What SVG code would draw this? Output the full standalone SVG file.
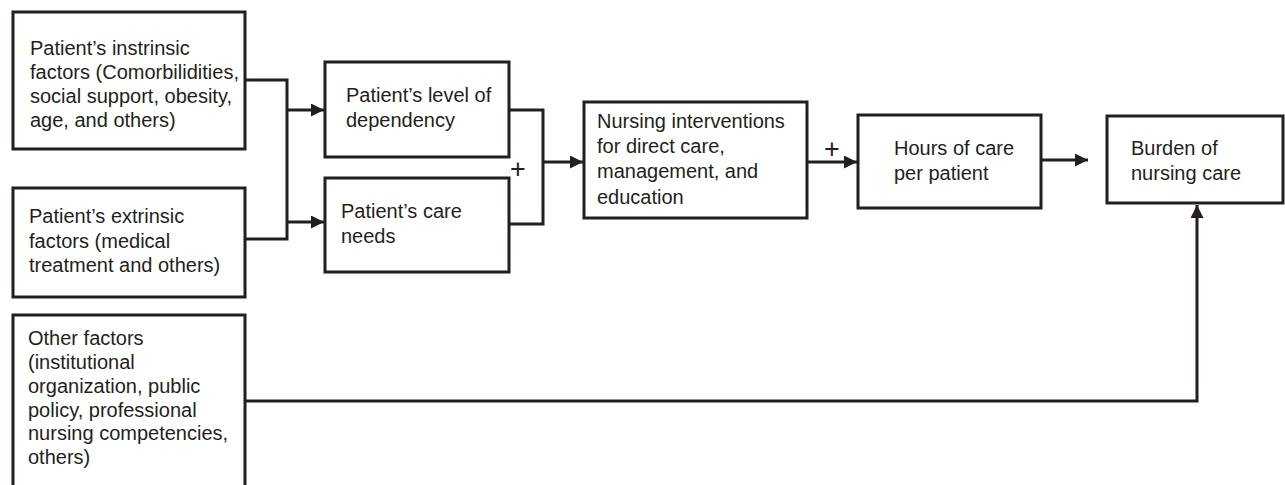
<svg xmlns="http://www.w3.org/2000/svg" width="1285" height="485" viewBox="0 0 1285 485">
<defs>
<marker id="arr" viewBox="0 0 13 13" refX="13" refY="6.5" markerWidth="13" markerHeight="13" markerUnits="userSpaceOnUse" orient="auto">
<path d="M0,0 L13,6.5 L0,13 Z" fill="#231f20"/>
</marker>
<style>
.box{fill:#fff;stroke:#231f20;stroke-width:3}
.t{font-family:"Liberation Sans",Arial,sans-serif;font-size:20px;fill:#231f20}
.c{fill:none;stroke:#231f20;stroke-width:3}
.plus{font-family:"Liberation Sans",Arial,sans-serif;font-size:27px;fill:#231f20;text-anchor:middle}
</style>
</defs>
<rect width="1285" height="485" fill="#fff"/>
<g id="connectors">
<polyline class="c" points="245,80 287,80 287,239 245,239"/>
<line class="c" x1="287" y1="110" x2="324" y2="110" marker-end="url(#arr)"/>
<line class="c" x1="287" y1="222" x2="324" y2="222" marker-end="url(#arr)"/>
<polyline class="c" points="509,110 543,110 543,224 509,224"/>
<line class="c" x1="543" y1="162" x2="583" y2="162" marker-end="url(#arr)"/>
<line class="c" x1="807" y1="162" x2="857" y2="162" marker-end="url(#arr)"/>
<line class="c" x1="1041" y1="160" x2="1088" y2="160" marker-end="url(#arr)"/>
<polyline class="c" points="245,401 1197,401 1197,205" marker-end="url(#arr)"/>
<text class="plus" x="518" y="178">+</text>
<text class="plus" x="832" y="158">+</text>
</g>
<g id="intrinsic">
<rect class="box" x="13" y="12" width="232" height="137"/>
<text class="t" x="30" y="55">Patient’s instrinsic</text>
<text class="t" x="30" y="79">factors (Comorbilidities,</text>
<text class="t" x="30" y="103">social support, obesity,</text>
<text class="t" x="30" y="127">age, and others)</text>
</g>
<g id="extrinsic">
<rect class="box" x="13" y="188" width="232" height="109"/>
<text class="t" x="29" y="223">Patient’s extrinsic</text>
<text class="t" x="29" y="248">factors (medical</text>
<text class="t" x="29" y="272">treatment and others)</text>
</g>
<g id="other">
<rect class="box" x="13" y="315" width="232" height="180"/>
<text class="t" x="28" y="345">Other factors</text>
<text class="t" x="28" y="369">(institutional</text>
<text class="t" x="28" y="393">organization, public</text>
<text class="t" x="28" y="417">policy, professional</text>
<text class="t" x="28" y="440">nursing competencies,</text>
<text class="t" x="28" y="464">others)</text>
</g>
<g id="dependency">
<rect class="box" x="325" y="62" width="184" height="95"/>
<text class="t" x="346" y="102">Patient’s level of</text>
<text class="t" x="346" y="127">dependency</text>
</g>
<g id="careneeds">
<rect class="box" x="325" y="178" width="184" height="94"/>
<text class="t" x="341" y="218">Patient’s care</text>
<text class="t" x="341" y="243">needs</text>
</g>
<g id="interventions">
<rect class="box" x="584" y="102" width="223" height="116"/>
<text class="t" x="597" y="128">Nursing interventions</text>
<text class="t" x="597" y="153">for direct care,</text>
<text class="t" x="597" y="178">management, and</text>
<text class="t" x="597" y="204">education</text>
</g>
<g id="hours">
<rect class="box" x="858" y="115" width="183" height="93"/>
<text class="t" x="894" y="155">Hours of care</text>
<text class="t" x="894" y="180">per patient</text>
</g>
<g id="burden">
<rect class="box" x="1107" y="116" width="176" height="87"/>
<text class="t" x="1131" y="155">Burden of</text>
<text class="t" x="1131" y="180">nursing care</text>
</g>
</svg>
